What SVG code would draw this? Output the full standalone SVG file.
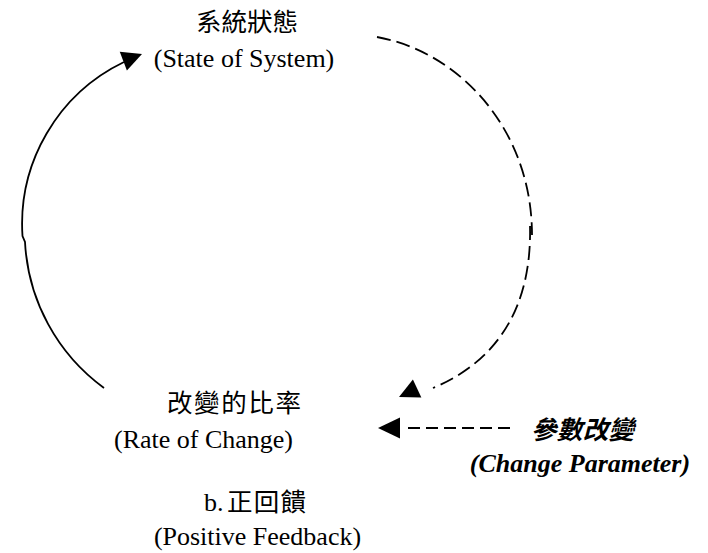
<svg xmlns="http://www.w3.org/2000/svg" width="708" height="553" viewBox="0 0 708 553">
  <style>
    .cjk { font-family: "Noto Sans CJK TC", "Noto Sans CJK SC", sans-serif; font-size: 25.5px; font-weight: normal; fill: #000; }
    .en { font-family: "Liberation Serif", "Times New Roman", serif; font-size: 26px; fill: #000; }
    .bi { font-weight: bold; font-style: italic; }
    .solid { fill: none; stroke: #000; stroke-width: 1.8; }
    .dash { fill: none; stroke: #000; stroke-width: 1.8; stroke-dasharray: 14 6; }
    .hdash { fill: none; stroke: #000; stroke-width: 2; stroke-dasharray: 12 6; }
  </style>
  <defs>
    <path id="ah" d="M0,0 L-20,-10 L-20,10 Z" fill="#000"/>
  </defs>
  <rect width="708" height="553" fill="#fff"/>

  <g id="connectors">
    <path class="solid" d="M104,388 A193,193 0 0 1 25,242 L22.5,236 A180,180 0 0 1 124,62"/>
    <use href="#ah" transform="translate(142,54) rotate(-21)"/>
    <path class="dash" d="M377,37 C460,52 532,130 532,235 M530,226 C532,310 495,362 433,388"/>
    <use href="#ah" transform="translate(399,397) rotate(155)"/>
    <path class="hdash" d="M408,428 L510,428"/>
    <use href="#ah" transform="translate(378,428) rotate(180) scale(1.1,1.05)"/>
  </g>

  <g id="node-state">
    <text class="cjk" x="247" y="31" text-anchor="middle" textLength="102" lengthAdjust="spacing">系統狀態</text>
    <text class="en" x="244" y="66.5" text-anchor="middle">(State of System)</text>
  </g>

  <g id="node-rate">
    <text class="cjk" x="234" y="412" text-anchor="middle" textLength="134" lengthAdjust="spacing">改變的比率</text>
    <text class="en" x="203.5" y="448" text-anchor="middle">(Rate of Change)</text>
  </g>

  <g id="node-param">
    <text class="cjk bi" x="582.5" y="439" text-anchor="middle" textLength="103" lengthAdjust="spacing">參數改變</text>
    <text class="en bi" x="580" y="472" text-anchor="middle">(Change Parameter)</text>
  </g>

  <g id="caption">
    <text class="en" x="204" y="510.5">b.</text>
    <text class="cjk" x="227" y="511" textLength="79" lengthAdjust="spacing">正回饋</text>
    <text class="en" x="257.5" y="545" text-anchor="middle">(Positive Feedback)</text>
  </g>
</svg>
